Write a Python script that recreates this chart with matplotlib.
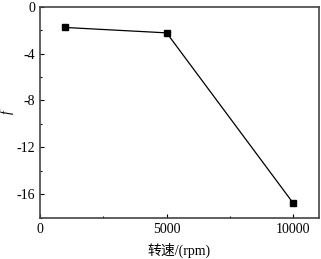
import numpy as np
import matplotlib.pyplot as plt
from matplotlib.ticker import MultipleLocator

# data
speed = [1000, 5000, 10000]
f_val = [-1.77, -2.23, -16.77]
xticks = [0, 5000, 10000]
yticks = [0, -4, -8, -12, -16]

plt.rcParams['font.family'] = ['Liberation Serif', 'Noto Sans CJK SC']
plt.rcParams['font.size'] = 10
plt.rcParams['axes.unicode_minus'] = False

fig = plt.figure(figsize=(3.21, 2.59), dpi=100)
ax = fig.add_axes([0.1246, 0.1595, 0.868, 0.8145])

ax.plot(speed, f_val, color='black', lw=0.9, marker='s', ms=5)

ax.set_xlim(0, 11000)
ax.set_ylim(-18, 0)
ax.set_xticks(xticks)
ax.set_yticks(yticks)
ax.xaxis.set_minor_locator(MultipleLocator(2500))
ax.yaxis.set_minor_locator(MultipleLocator(2))
ax.tick_params(which='both', direction='in', top=False, right=False)
ax.tick_params(which='major', length=3, width=0.8)
ax.tick_params(which='minor', length=1.5, width=0.8)
for s in ax.spines.values():
    s.set_linewidth(1.2)
    s.set_color('#444444')

ax.set_xlabel('转速/(rpm)', labelpad=5)
ax.set_ylabel('f', style='italic')
ax.yaxis.set_label_coords(-0.095, 0.5)

fig.savefig('out.png', dpi=100)
